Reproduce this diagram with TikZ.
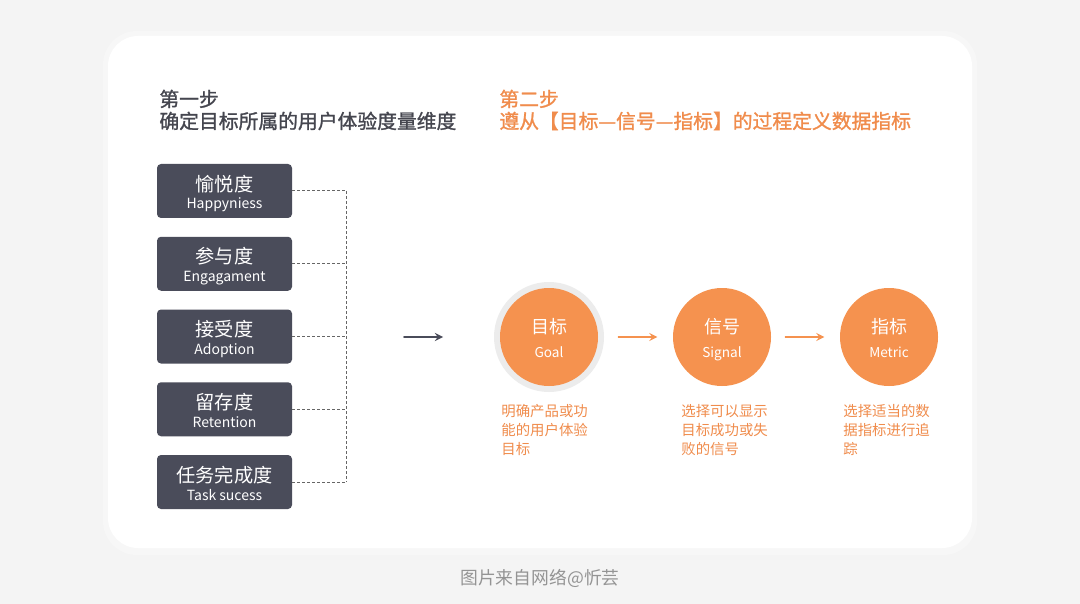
\documentclass[tikz,border=0pt]{standalone}
\usepackage{fontspec}
\setmainfont{Noto Sans CJK SC}
\newfontfamily\headfont[FakeBold=1.2]{Noto Sans CJK SC}
\definecolor{pagegray}{HTML}{F4F4F4}
\definecolor{boxgray}{HTML}{4A4C5A}
\definecolor{titlegray}{HTML}{45464F}
\definecolor{orange}{HTML}{F5924F}
\definecolor{textorange}{HTML}{F08C4C}
\definecolor{ringgray}{HTML}{ECECEC}
\begin{document}
\begin{tikzpicture}[x=0.5pt,y=-0.5pt,>=stealth,line join=round,line cap=round,
	dim/.style={rounded corners=2pt,fill=boxgray,text=white,minimum width=67.5pt,minimum height=27pt,align=center,inner sep=0pt},
	link/.style={draw=black!60,line width=0.5pt,dash pattern=on 1.5pt off 1pt,line cap=butt},
	bubble/.style={circle,fill=orange,text=white,minimum size=49pt,inner sep=0pt,align=center},
	flow/.style={->,draw=orange,line width=0.8pt},
	heading/.style={anchor=west,inner sep=0pt,align=left,font=\headfont\fontsize{9.9}{11}\selectfont},
	note/.style={anchor=north west,inner sep=0pt,align=left,text=textorange,font=\fontsize{7.2}{9.5}\selectfont}]
	\useasboundingbox (0,0) rectangle (1080,604);
	\fill[pagegray] (0,0) rectangle (1080,604);
	\fill[black!3,rounded corners=17pt] (103,31) rectangle (977,555);
	\fill[white,rounded corners=15pt] (108,36) rectangle (972,548);
	\node[heading,text=titlegray] (step1) at (159,110) {第一步\\确定目标所属的用户体验度量维度};
	\node[heading,text=textorange] (step2) at (499,110) {第二步\\遵从【目标—信号—指标】的过程定义数据指标};
	\coordinate (bus) at (346,337);
	\foreach \name/\zh/\en [count=\i] in {happy/愉悦度/Happyniess,engage/参与度/Engagament,adopt/接受度/Adoption,retain/留存度/Retention,task/任务完成度/Task sucess}
	{\node[dim] (\name) at (224.5,{191+72.75*(\i-1)}) {{\fontsize{9.6}{10}\selectfont\rule{0pt}{11pt}\zh}\\[-3pt]{\fontsize{7}{8}\selectfont\rule[-2pt]{0pt}{2pt}\en}};
		\draw[link] (\name.east) -- (\name.east -| bus);}
	\draw[link] (happy.east -| bus) -- (task.east -| bus);
	\coordinate (in) at (404,337); \coordinate (out) at (443,337);
	\draw[->,draw=boxgray,line width=0.8pt] (in) -- (out);
	\node[circle,fill=ringgray,minimum size=55pt,inner sep=0pt] (goalring) at (549,337) {};
	\node[bubble] (goal) at (549,337) {{\fontsize{9}{10}\selectfont\rule{0pt}{10.5pt}目标}\\{\fontsize{6.8}{8}\selectfont\rule[-2pt]{0pt}{2pt}Goal}};
	\node[bubble] (signal) at (722,337) {{\fontsize{9}{10}\selectfont\rule{0pt}{10.5pt}信号}\\{\fontsize{6.8}{8}\selectfont\rule[-2pt]{0pt}{2pt}Signal}};
	\node[bubble] (metric) at (889,337) {{\fontsize{9}{10}\selectfont\rule{0pt}{10.5pt}指标}\\{\fontsize{6.8}{8}\selectfont\rule[-2pt]{0pt}{2pt}Metric}};
	\draw[flow] (goalring.east) ++(14,0) coordinate (a1) -- ++(39,0) coordinate (a2);
	\draw[flow] (signal.east) ++(14,0) coordinate (b1) -- ++(39,0) coordinate (b2);
	\node[note] (goalnote) at (501,404) {明确产品或功\\能的用户体验\\目标};
	\node[note] (signalnote) at (681,404) {选择可以显示\\目标成功或失\\败的信号};
	\node[note] (metricnote) at (843,404) {选择适当的数\\据指标进行追\\踪};
	\node[text=black!42,inner sep=0pt,font=\fontsize{8.9}{10}\selectfont] (credit) at (540,578) {图片来自网络@忻芸};
\end{tikzpicture}
\end{document}
